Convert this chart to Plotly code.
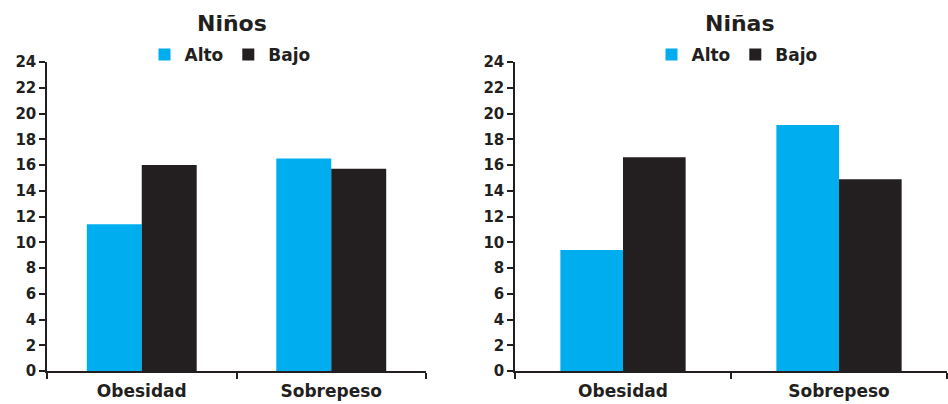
import plotly.graph_objects as go

categories = ["Obesidad", "Sobrepeso"]
ninos_alto = [11.4, 16.5]
ninos_bajo = [16.0, 15.7]
ninas_alto = [9.4, 19.1]
ninas_bajo = [16.6, 14.9]
series_names = ["Alto", "Bajo"]
titles = ["Niños", "Niñas"]
y_ticks = list(range(0, 25, 2))

BLUE = "#00AEEF"
DARK = "#231F20"
FONT = "DejaVu Sans"

W, H = 948, 404

fig = go.Figure()
fig.add_trace(go.Bar(x=categories, y=ninos_alto, name=series_names[0], marker_color=BLUE,
                     marker_line_width=0, xaxis="x", yaxis="y", legend="legend"))
fig.add_trace(go.Bar(x=categories, y=ninos_bajo, name=series_names[1], marker_color=DARK,
                     marker_line_width=0, xaxis="x", yaxis="y", legend="legend"))
fig.add_trace(go.Bar(x=categories, y=ninas_alto, name=series_names[0], marker_color=BLUE,
                     marker_line_width=0, xaxis="x2", yaxis="y2", legend="legend2"))
fig.add_trace(go.Bar(x=categories, y=ninas_bajo, name=series_names[1], marker_color=DARK,
                     marker_line_width=0, xaxis="x2", yaxis="y2", legend="legend2"))

xcommon = dict(showline=True, linecolor=DARK, linewidth=1.5, ticks="outside",
               tickson="boundaries", ticklen=6, tickcolor=DARK, tickwidth=1.5,
               ticklabelstandoff=4,
               tickfont=dict(family=FONT, size=17, color=DARK, weight="bold"),
               showgrid=False, zeroline=False, automargin=False, fixedrange=True)
ycommon = dict(range=[0, 24], tickvals=y_ticks, showline=True, linecolor=DARK, linewidth=1.5,
               ticks="outside", ticklen=6, tickcolor=DARK, tickwidth=1.5,
               tickfont=dict(family=FONT, size=15, color=DARK, weight="bold"),
               showgrid=False, zeroline=False, automargin=False, fixedrange=True)

ydom = [1 - 371 / H, 1 - 62 / H]
legfont = dict(family=FONT, size=17, color=DARK, weight="bold")

fig.update_layout(
    width=W, height=H,
    margin=dict(l=0, r=0, t=0, b=0),
    paper_bgcolor="white", plot_bgcolor="white",
    barmode="group", bargap=0.42, bargroupgap=0,
    xaxis=dict(domain=[47 / W, 426 / W], anchor="y", **xcommon),
    yaxis=dict(domain=ydom, anchor="x", **ycommon),
    xaxis2=dict(domain=[515 / W, 947 / W], anchor="y2", **xcommon),
    yaxis2=dict(domain=ydom, anchor="x2", **ycommon),
    legend=dict(orientation="h", x=230 / W, y=1 - 55 / H, xanchor="center", yanchor="middle",
                font=legfont, itemwidth=30, bgcolor="rgba(0,0,0,0)", tracegroupgap=0),
    legend2=dict(orientation="h", x=737 / W, y=1 - 55 / H, xanchor="center", yanchor="middle",
                 font=legfont, itemwidth=30, bgcolor="rgba(0,0,0,0)", tracegroupgap=0),
    annotations=[
        dict(text=titles[0], x=232 / W, y=1 - 23 / H, xref="paper", yref="paper",
             showarrow=False, xanchor="center", yanchor="middle",
             font=dict(family=FONT, size=22, color=DARK, weight="bold")),
        dict(text=titles[1], x=740 / W, y=1 - 23 / H, xref="paper", yref="paper",
             showarrow=False, xanchor="center", yanchor="middle",
             font=dict(family=FONT, size=22, color=DARK, weight="bold")),
    ],
)

fig.write_html("out.html", config={"displayModeBar": False},
               post_script="document.body.style.margin='0';document.body.style.overflow='hidden';")
